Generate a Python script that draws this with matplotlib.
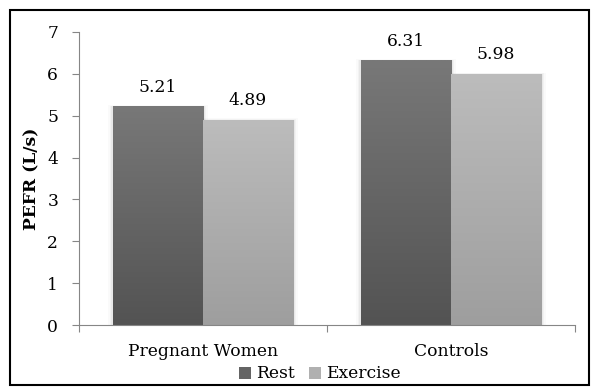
import numpy as np
import matplotlib
matplotlib.use("Agg")
import matplotlib.pyplot as plt
from matplotlib.colors import LinearSegmentedColormap
from matplotlib.patches import Rectangle

categories = ["Pregnant Women", "Controls"]
series_names = ["Rest", "Exercise"]
rest = [5.21, 6.31]
exercise = [4.89, 5.98]
yticks = [0, 1, 2, 3, 4, 5, 6, 7]

plt.rcParams['font.family'] = ['DejaVu Serif']
FS = 12.3

fig = plt.figure(figsize=(5.95, 3.88), dpi=100)
ax = fig.add_axes([79/595, 1 - 325/388, (575-79)/595, (325-32)/388])

x = np.arange(len(categories))
w = 0.363
grads = {
    "Rest": LinearSegmentedColormap.from_list("r", ["#535353", "#787878"]),
    "Exercise": LinearSegmentedColormap.from_list("e", ["#9e9e9e", "#bcbcbc"]),
}
legend_cols = {"Rest": "#646464", "Exercise": "#b0b0b0"}
for vals, off, name in [(rest, -w/2, "Rest"), (exercise, w/2, "Exercise")]:
    bars = ax.bar(x + off, vals, w, color=legend_cols[name], label=name, zorder=2)
    for b, v in zip(bars, vals):
        x0, x1 = b.get_x(), b.get_x() + b.get_width()
        b.set_facecolor("none")
        b.set_edgecolor("none")
        for k, a in enumerate([0.04, 0.03, 0.02]):
            sh = Rectangle((x0 - 0.007*(k+1), 0), (x1 - x0) + 0.014*(k+1), v + 0.015*(k+1),
                           facecolor="black", alpha=a, edgecolor="none", zorder=1)
            ax.add_patch(sh)
        grad = np.linspace(0, 1, 256).reshape(-1, 1)
        ax.imshow(grad, extent=[x0, x1, 0, v], origin="lower", aspect="auto",
                  cmap=grads[name], zorder=2)
        ax.text((x0 + x1)/2, v + 0.27, f"{v:.2f}", ha="center", va="bottom", fontsize=FS)

ax.set_xlim(-0.5, 1.5)
ax.set_ylim(0, 7)
ax.set_yticks(yticks)
ax.set_yticklabels([str(t) for t in yticks], fontsize=FS)
ax.set_xticks([-0.5, 0.5, 1.5], minor=False)
ax.set_xticklabels([])
ax.set_xticks(x, minor=True)
ax.set_xticklabels(categories, minor=True, fontsize=FS)
ax.tick_params(axis="x", which="minor", length=0, pad=13)
ax.tick_params(axis="x", which="major", length=5, color="#868686", direction="out")
ax.tick_params(axis="y", length=5, color="#868686", direction="out", pad=10)
for s in ["top", "right"]:
    ax.spines[s].set_visible(False)
for s in ["left", "bottom"]:
    ax.spines[s].set_color("#868686")
ax.set_ylabel("PEFR (L/s)", fontweight="bold", fontsize=FS, labelpad=5)

handles = [Rectangle((0, 0), 1, 1, facecolor=legend_cols[n]) for n in series_names]
fig.legend(handles, series_names, loc="center", bbox_to_anchor=(320/595, 1 - 374/388),
           ncol=2, frameon=False, fontsize=FS, handlelength=0.7, handleheight=0.7,
           handletextpad=0.3, columnspacing=0.8, borderpad=0)

fig.patches.append(Rectangle((10/595, 1 - 385/388), (589-10)/595, (385-10)/388,
                             transform=fig.transFigure, fill=False, edgecolor="black",
                             linewidth=1.5))
fig.savefig("out.png", dpi=100)
